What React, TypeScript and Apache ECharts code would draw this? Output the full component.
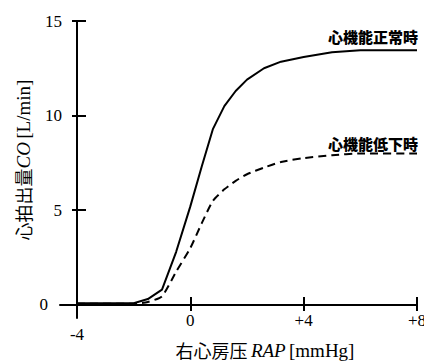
import React, { useEffect, useRef } from "react";
import * as echarts from "echarts";

// Right atrial pressure (mmHg)
const rap = [-4, -2, -1.5, -1, -0.5, 0, 0.4, 0.8, 1.2, 1.6, 2, 2.6, 3.2, 4, 5, 6, 8];
// Cardiac output, normal heart function (L/min)
const coNormal = [0.08, 0.08, 0.3, 0.8, 2.8, 5.2, 7.3, 9.3, 10.5, 11.3, 11.9, 12.5, 12.85, 13.1, 13.35, 13.45, 13.45];
// Cardiac output, reduced heart function (L/min)
const coReduced = [0.05, 0.05, 0.15, 0.45, 1.75, 3.0, 4.3, 5.5, 6.1, 6.55, 6.9, 7.25, 7.55, 7.75, 7.9, 8.0, 8.0];

const xLabelValues = [0, 4, 8];
const xLowLabelValues = [-4];
const xTickValues = [0, 4, 8];
const yLabelValues = [5, 10, 15];
const yZeroLabelValues = [0];
const yTickValues = [5, 10, 15];

const normalLabel = "心機能正常時";
const reducedLabel = "心機能低下時";

const SERIF = "Liberation Serif";
const SANS = "'Noto Sans CJK JP', sans-serif";

export default function App() {
  const ref = useRef<HTMLDivElement>(null);

  useEffect(() => {
    document.body.style.margin = "0";
    const chart = echarts.init(ref.current!, null, { renderer: "svg" });

    const labelStyle = {
      color: "#000",
      fontFamily: SERIF,
      fontSize: 17,
    };
    const tickLine = { color: "#000", width: 2 };

    const xCommon = {
      type: "value" as const,
      min: -4.6,
      max: 8,
      position: "bottom" as const,
      offset: -13,
      splitLine: { show: false },
    };
    const yCommon = {
      type: "value" as const,
      min: -0.7,
      max: 15,
      offset: -17,
      position: "left" as const,
      splitLine: { show: false },
    };

    chart.setOption({
      animation: false,
      textStyle: { fontFamily: SERIF },
      grid: {
        left: 60,
        right: 7,
        top: 21,
        bottom: 43,
        containLabel: false,
        outerBoundsMode: "none",
      },
      xAxis: [
        {
          ...xCommon,
          axisLine: { show: true, onZero: false, lineStyle: { color: "#000", width: 2 } },
          axisTick: { show: true, inside: true, length: 8, customValues: xTickValues, lineStyle: tickLine },
          axisLabel: {
            show: true,
            customValues: xLabelValues,
            margin: 7,
            ...labelStyle,
            formatter: (v: number) => (v > 0 ? "+" + v : String(v)),
          },
        },
        {
          ...xCommon,
          axisLine: { show: false, onZero: false },
          axisTick: { show: true, inside: false, length: 6, customValues: xTickValues, lineStyle: tickLine },
          axisLabel: {
            show: true,
            customValues: xLowLabelValues,
            margin: 21,
            ...labelStyle,
            formatter: (v: number) => String(v),
          },
        },
      ],
      yAxis: [
        {
          ...yCommon,
          axisLine: { show: true, onZero: false, lineStyle: { color: "#000", width: 2 } },
          axisTick: { show: true, inside: true, length: 9, customValues: yTickValues, lineStyle: tickLine },
          axisLabel: {
            show: true,
            customValues: yLabelValues,
            margin: 15,
            ...labelStyle,
            formatter: (v: number) => String(v),
          },
        },
        {
          ...yCommon,
          axisLine: { show: false, onZero: false },
          axisTick: { show: true, inside: false, length: 5, customValues: yTickValues, lineStyle: tickLine },
          axisLabel: {
            show: true,
            customValues: yZeroLabelValues,
            margin: 29,
            ...labelStyle,
            formatter: (v: number) => String(v),
          },
        },
      ],
      series: [
        {
          type: "line",
          name: normalLabel,
          xAxisIndex: 0,
          yAxisIndex: 0,
          data: rap.map((x, i) => [x, coNormal[i]]),
          symbol: "none",
          lineStyle: { color: "#000", width: 2 },
        },
        {
          type: "line",
          name: reducedLabel,
          xAxisIndex: 0,
          yAxisIndex: 0,
          data: rap.map((x, i) => [x, coReduced[i]]),
          symbol: "none",
          smooth: 0.2,
          lineStyle: { color: "#000", width: 2, type: [8, 5] },
        },
      ],
      graphic: [
        {
          type: "text",
          x: 418,
          y: 36,
          style: {
            text: normalLabel,
            fill: "#000",
            font: `900 15px ${SANS}`,
            align: "right",
            verticalAlign: "middle",
          },
        },
        {
          type: "text",
          x: 418,
          y: 143,
          style: {
            text: reducedLabel,
            fill: "#000",
            font: `900 15px ${SANS}`,
            align: "right",
            verticalAlign: "middle",
          },
        },
        {
          type: "text",
          x: 265,
          y: 350,
          style: {
            text: "{cn|右心房压} {it|RAP} {sr|[mmHg]}",
            align: "center",
            verticalAlign: "middle",
            fill: "#000",
            rich: {
              cn: { fontFamily: SANS, fontSize: 18, fill: "#000", color: "#000", lineHeight: 20 },
              it: { fontFamily: SERIF, fontStyle: "italic", fontSize: 19, fill: "#000", color: "#000", lineHeight: 20 },
              sr: { fontFamily: SERIF, fontSize: 19, fill: "#000", color: "#000", lineHeight: 20 },
            },
          },
        },
        {
          type: "text",
          x: 23,
          y: 160,
          rotation: Math.PI / 2,
          style: {
            text: "{cn|心拍出量}{it|CO} {sr|[L/min]}",
            align: "center",
            verticalAlign: "middle",
            fill: "#000",
            rich: {
              cn: { fontFamily: SANS, fontSize: 18, fill: "#000", color: "#000" },
              it: { fontFamily: SERIF, fontStyle: "italic", fontSize: 19, fill: "#000", color: "#000" },
              sr: { fontFamily: SERIF, fontSize: 19, fill: "#000", color: "#000" },
            },
          },
        },
      ],
    });

    return () => chart.dispose();
  }, []);

  return <div ref={ref} style={{ position: "absolute", left: 0, top: 0, width: 424, height: 361 }} />;
}
